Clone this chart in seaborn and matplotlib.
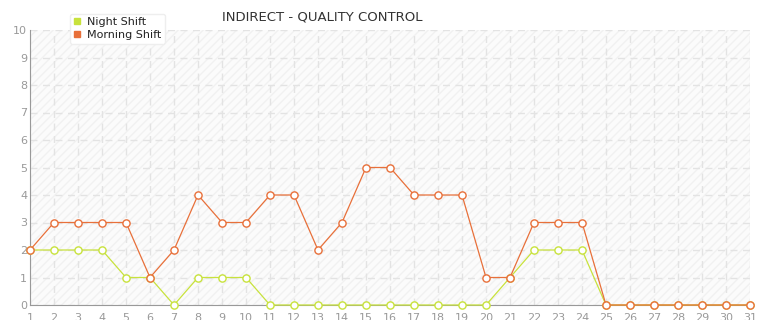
import matplotlib
matplotlib.use("Agg")
import matplotlib.pyplot as plt
import seaborn as sns
import pandas as pd
from matplotlib.patches import Rectangle
from matplotlib.lines import Line2D

days = list(range(1, 32))
night_shift = [2, 2, 2, 2, 1, 1, 0, 1, 1, 1, 0, 0, 0, 0, 0, 0, 0, 0, 0, 0, 1, 2, 2, 2, 0, 0, 0, 0, 0, 0, 0]
morning_shift = [2, 3, 3, 3, 3, 1, 2, 4, 3, 3, 4, 4, 2, 3, 5, 5, 4, 4, 4, 1, 1, 3, 3, 3, 0, 0, 0, 0, 0, 0, 0]
y_ticks = list(range(0, 11))

night_color = "#c8e23c"
morning_color = "#e8703a"

df = pd.DataFrame({"day": days + days,
                   "value": night_shift + morning_shift,
                   "series": ["Night Shift"] * 31 + ["Morning Shift"] * 31})

sns.set_style("white")
plt.rcParams['font.family'] = ['DejaVu Sans']
fig = plt.figure(figsize=(7.65, 3.2), dpi=100)
ax = fig.add_axes([30 / 765, 15 / 320, 720 / 765, 275 / 320])

ax.set_facecolor("#fbfbfb")
hatch = Rectangle((0, 0), 1, 1, transform=ax.transAxes, facecolor="none",
                  edgecolor="#f1f1f1", hatch="////", linewidth=0, zorder=0)
ax.add_patch(hatch)

sns.lineplot(data=df, x="day", y="value", hue="series",
             palette={"Night Shift": night_color, "Morning Shift": morning_color},
             marker="o", markersize=5.2, markerfacecolor="white", markeredgewidth=1.0,
             linewidth=0.9, legend=False, ax=ax, zorder=3)
for line, c in zip(ax.get_lines(), [night_color, morning_color]):
    line.set_markeredgecolor(c)
    line.set_clip_on(False)

ax.set_xlim(1, 31)
ax.set_ylim(0, 10)
ax.set_xticks(days)
ax.set_yticks(y_ticks)
ax.set_xlabel("")
ax.set_ylabel("")
ax.grid(True, color="#e3e3e3", linestyle=(0, (5, 4)), linewidth=1)
ax.set_axisbelow(True)
for s in ["top", "right"]:
    ax.spines[s].set_visible(False)
ax.spines["left"].set_color("#999999")
ax.spines["bottom"].set_color("#999999")
ax.tick_params(axis="both", colors="#999999", labelsize=8, length=4, width=1,
               labelcolor="#999999", pad=2)
ax.tick_params(axis="y", length=0)

fig.text(322 / 765, 1 - 17 / 320, "INDIRECT - QUALITY CONTROL", ha="center", va="center",
         fontsize=9.5, color="#333333")

handles = [Line2D([], [], marker="s", linestyle="none", color=night_color, markersize=5),
           Line2D([], [], marker="s", linestyle="none", color=morning_color, markersize=5)]
leg = fig.legend(handles, ["Night Shift", "Morning Shift"], loc="upper left",
                 bbox_to_anchor=(64 / 765, 1 - 8 / 320), fontsize=8, frameon=True,
                 fancybox=True, handlelength=0.8, handletextpad=0.5, borderpad=0.3,
                 labelspacing=0.3, framealpha=1, edgecolor="#eeeeee")
for t in leg.get_texts():
    t.set_color("#222222")

fig.savefig("out.png", dpi=100)
